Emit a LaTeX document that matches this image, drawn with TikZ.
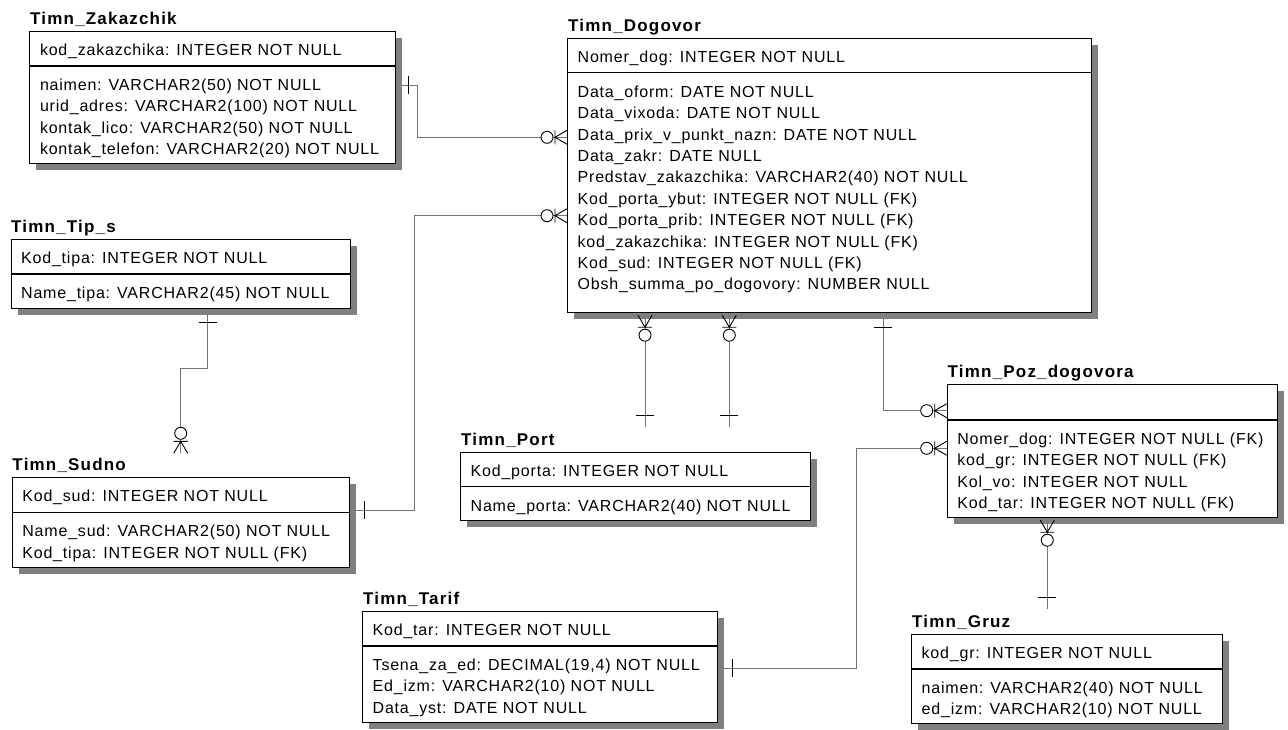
\documentclass[tikz,border=0pt]{standalone}
\usepackage{fontspec}
\setmainfont{Liberation Sans}[LetterSpace=5]
\newfontfamily\ttlfont{Liberation Sans}[LetterSpace=7]
\usetikzlibrary{calc,shadows}
\tikzstyle{ent} = [draw=black, line width=1.1pt, fill=white, anchor=north west, inner sep=0pt, drop shadow={shadow xshift=6.5pt, shadow yshift=-6.5pt, fill=black!50, opacity=1}]
\tikzstyle{sep} = [draw=black, line width=1.1pt]
\tikzstyle{ttl} = [anchor=base west, inner sep=0pt, font=\ttlfont\fontsize{17}{20}\selectfont\bfseries]
\tikzstyle{row} = [anchor=base west, inner sep=0pt, font=\fontsize{16}{21.4}\selectfont]
\tikzstyle{rel} = [draw=black!55, line width=0.8pt]
\tikzstyle{endmk} = [draw=black, line width=0.9pt]
\tikzset{
  zmany/.pic={
    \draw[endmk] (-12,-7) -- (-12,7) (0,-7) -- (-12,0) -- (0,7);
    \draw[endmk, fill=white] (-20,0) circle[radius=6];
  },
  onebar/.pic={\draw[endmk] (0,-9) -- (0,9);}
}
\begin{document}
\begin{tikzpicture}[x=1pt,y=-1pt]
\useasboundingbox (0,0) rectangle (1288,729);

% Timn_Zakazchik
\node[ttl] (zakt) at (30,24.5) {Timn\_Zakazchik};
\node[ent, minimum width=365.7pt, minimum height=132.3pt] (zak) at (29.3,31) {};
\draw[sep] ($(zak.north west)+(0,35)$) -- ($(zak.north east)+(0,35)$);
\node[row] (zakk) at (39.8,55.3) {kod\_zakazchika: INTEGER NOT NULL};
\foreach \t [count=\i from 0] in {{naimen: VARCHAR2(50) NOT NULL},{urid\_adres: VARCHAR2(100) NOT NULL},{kontak\_lico: VARCHAR2(50) NOT NULL},{kontak\_telefon: VARCHAR2(20) NOT NULL}}
  \node[row] (zak\i) at (39.8,90.5+\i*21.4) {\t};

% Timn_Dogovor
\node[ttl] (dogt) at (568,31.2) {Timn\_Dogovor};
\node[ent, minimum width=524pt, minimum height=274pt] (dog) at (567,37.7) {};
\draw[sep] ($(dog.north west)+(0,35)$) -- ($(dog.north east)+(0,35)$);
\node[row] (dogk) at (577.5,62) {Nomer\_dog: INTEGER NOT NULL};
\foreach \t [count=\i from 0] in {{Data\_oform: DATE NOT NULL},{Data\_vixoda: DATE NOT NULL},{Data\_prix\_v\_punkt\_nazn: DATE NOT NULL},{Data\_zakr: DATE NULL},{Predstav\_zakazchika: VARCHAR2(40) NOT NULL},{Kod\_porta\_ybut: INTEGER NOT NULL (FK)},{Kod\_porta\_prib: INTEGER NOT NULL (FK)},{kod\_zakazchika: INTEGER NOT NULL (FK)},{Kod\_sud: INTEGER NOT NULL (FK)},{Obsh\_summa\_po\_dogovory: NUMBER NULL}}
  \node[row] (dog\i) at (577.5,97.2+\i*21.4) {\t};

% Timn_Tip_s
\node[ttl] (tipt) at (11,232.5) {Timn\_Tip\_s};
\node[ent, minimum width=339.5pt, minimum height=68.7pt] (tip) at (10.5,239) {};
\draw[sep] ($(tip.north west)+(0,35)$) -- ($(tip.north east)+(0,35)$);
\node[row] (tipk) at (21,263.3) {Kod\_tipa: INTEGER NOT NULL};
\node[row] (tip0) at (21,298.5) {Name\_tipa: VARCHAR2(45) NOT NULL};

% Timn_Sudno
\node[ttl] (sudt) at (12.3,470.8) {Timn\_Sudno};
\node[ent, minimum width=337.6pt, minimum height=89.4pt] (sud) at (11.7,477.3) {};
\draw[sep] ($(sud.north west)+(0,35)$) -- ($(sud.north east)+(0,35)$);
\node[row] (sudk) at (22.2,501.6) {Kod\_sud: INTEGER NOT NULL};
\foreach \t [count=\i from 0] in {{Name\_sud: VARCHAR2(50) NOT NULL},{Kod\_tipa: INTEGER NOT NULL (FK)}}
  \node[row] (sud\i) at (22.2,536.6+\i*21.4) {\t};

% Timn_Port
\node[ttl] (port) at (461,445.2) {Timn\_Port};
\node[ent, minimum width=350pt, minimum height=68.3pt] (prt) at (460,451.7) {};
\draw[sep] ($(prt.north west)+(0,35)$) -- ($(prt.north east)+(0,35)$);
\node[row] (prtk) at (470.5,476) {Kod\_porta: INTEGER NOT NULL};
\node[row] (prt0) at (470.5,511.2) {Name\_porta: VARCHAR2(40) NOT NULL};

% Timn_Poz_dogovora
\node[ttl] (pozt) at (947.5,377.8) {Timn\_Poz\_dogovora};
\node[ent, minimum width=330.3pt, minimum height=132.4pt] (poz) at (946.7,384.3) {};
\draw[sep] ($(poz.north west)+(0,35.7)$) -- ($(poz.north east)+(0,35.7)$);
\foreach \t [count=\i from 0] in {{Nomer\_dog: INTEGER NOT NULL (FK)},{kod\_gr: INTEGER NOT NULL (FK)},{Kol\_vo: INTEGER NOT NULL},{Kod\_tar: INTEGER NOT NULL (FK)}}
  \node[row] (poz\i) at (957.2,444.5+\i*21.4) {\t};

% Timn_Tarif
\node[ttl] (tart) at (363,604.5) {Timn\_Tarif};
\node[ent, minimum width=355.3pt, minimum height=111pt] (tar) at (362,611) {};
\draw[sep] ($(tar.north west)+(0,35)$) -- ($(tar.north east)+(0,35)$);
\node[row] (tark) at (372.5,635.3) {Kod\_tar: INTEGER NOT NULL};
\foreach \t [count=\i from 0] in {{Tsena\_za\_ed: DECIMAL(19,4) NOT NULL},{Ed\_izm: VARCHAR2(10) NOT NULL},{Data\_yst: DATE NOT NULL}}
  \node[row] (tar\i) at (372.5,670.5+\i*21.4) {\t};

% Timn_Gruz
\node[ttl] (gruzt) at (912,627.5) {Timn\_Gruz};
\node[ent, minimum width=311pt, minimum height=89pt] (gruz) at (911,634) {};
\draw[sep] ($(gruz.north west)+(0,35)$) -- ($(gruz.north east)+(0,35)$);
\node[row] (gruzk) at (921.5,658.3) {kod\_gr: INTEGER NOT NULL};
\foreach \t [count=\i from 0] in {{naimen: VARCHAR2(40) NOT NULL},{ed\_izm: VARCHAR2(10) NOT NULL}}
  \node[row] (gruz\i) at (921.5,693.5+\i*21.4) {\t};

% relationships
\coordinate (zd1) at (401.5,85.3);
\coordinate (zd2) at (567,137.3);
\draw[rel] (zd1) -- (417.3,85.3) |- (zd2);
\pic at (408,85.3) {onebar};
\pic at (zd2) {zmany};

\coordinate (sd1) at (355.8,510.3);
\coordinate (sd2) at (567,215.7);
\draw[rel] (sd1) -- (414,510.3) |- (sd2);
\pic at (364,510.3) {onebar};
\pic at (sd2) {zmany};

\coordinate (ts1) at (207.7,314.2);
\coordinate (ts2) at (180.7,453.3);
\draw[rel] (ts1) -- (207.7,368.3) -| (ts2);
\pic[rotate=90] at (207.7,322.7) {onebar};
\pic[rotate=-90] at (ts2) {zmany};

\coordinate (dp1) at (645,315.2);
\coordinate (dp2) at (645,426.7);
\draw[rel] (dp1) -- (dp2);
\pic[rotate=90] at (dp1) {zmany};
\pic[rotate=90] at (645,415) {onebar};

\coordinate (dp3) at (729.3,315.2);
\coordinate (dp4) at (729.3,426.7);
\draw[rel] (dp3) -- (dp4);
\pic[rotate=90] at (dp3) {zmany};
\pic[rotate=90] at (729.3,415) {onebar};

\coordinate (dz1) at (883.3,318.2);
\coordinate (dz2) at (946.7,410.7);
\draw[rel] (dz1) |- (dz2);
\pic[rotate=90] at (883.3,327) {onebar};
\pic at (dz2) {zmany};

\coordinate (tz1) at (723.8,668.3);
\coordinate (tz2) at (946.7,448.3);
\draw[rel] (tz1) -- (856.7,668.3) |- (tz2);
\pic at (732.3,668.3) {onebar};
\pic at (tz2) {zmany};

\coordinate (zg1) at (1047.3,520.2);
\coordinate (zg2) at (1047.3,609.3);
\draw[rel] (zg1) -- (zg2);
\pic[rotate=90] at (zg1) {zmany};
\pic[rotate=90] at (1047.3,597.7) {onebar};
\end{tikzpicture}
\end{document}
